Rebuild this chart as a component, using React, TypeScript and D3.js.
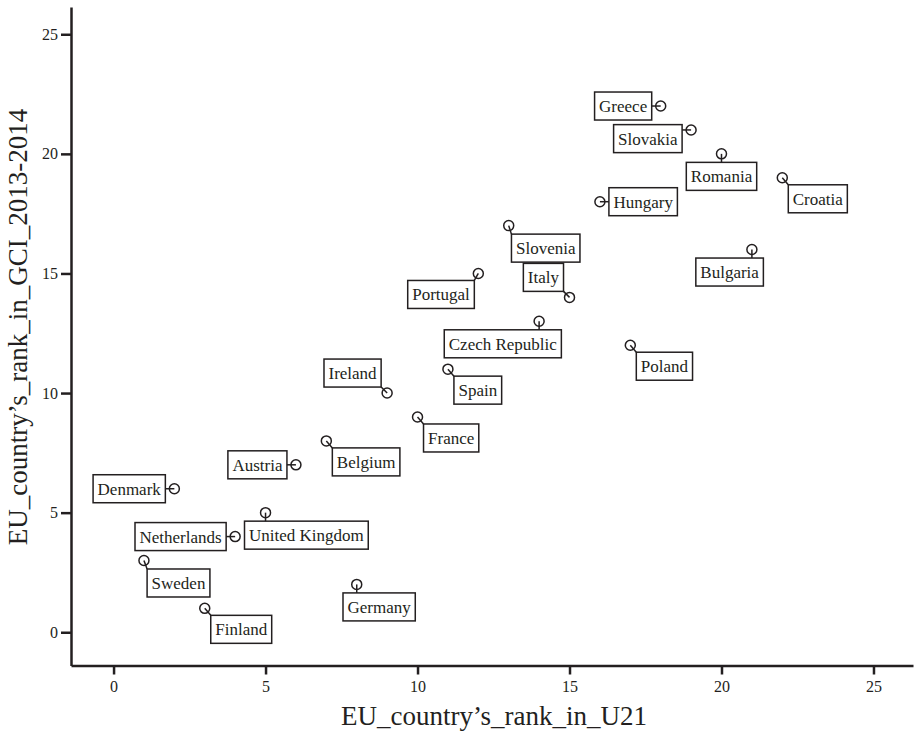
import React, { useEffect, useRef } from "react";
import * as d3 from "d3";

// EU countries, rank in U21 (x) vs rank in GCI 2013-2014 (y)
const countries = [
  "Greece", "Slovakia", "Romania", "Croatia", "Hungary", "Bulgaria",
  "Slovenia", "Portugal", "Italy", "Czech Republic", "Poland", "Ireland",
  "Spain", "France", "Belgium", "Austria", "Denmark", "United Kingdom",
  "Netherlands", "Sweden", "Germany", "Finland",
];
const rankU21 = [18, 19, 20, 22, 16, 21, 13, 12, 15, 14, 17, 9, 11, 10, 7, 6, 2, 5, 4, 1, 8, 3];
const rankGCI = [22, 21, 20, 19, 18, 16, 17, 15, 14, 13, 12, 10, 11, 9, 8, 7, 6, 5, 4, 3, 2, 1];
const xTicks = [0, 5, 10, 15, 20, 25];
const yTicks = [0, 5, 10, 15, 20, 25];

const xTitle = "EU_country\u2019s_rank_in_U21";
const yTitle = "EU_country\u2019s_rank_in_GCI_2013-2014";

// where each label box sits relative to its point: side + fraction along the box
const labelPlacement: Record<string, [string, number]> = {
  Greece: ["L", 0.5],
  Slovakia: ["L", 0.19],
  Romania: ["B", 0.5],
  Croatia: ["BR", 0],
  Hungary: ["R", 0.5],
  Bulgaria: ["B", 0.83],
  Slovenia: ["B", -0.04],
  Portugal: ["BL", 0],
  Italy: ["TL", 0],
  "Czech Republic": ["B", 0.81],
  Poland: ["BR", 0],
  Ireland: ["TL", 0],
  Spain: ["BR", 0],
  France: ["BR", 0],
  Belgium: ["BR", 0],
  Austria: ["L", 0.5],
  Denmark: ["L", 0.5],
  "United Kingdom": ["B", 0.17],
  Netherlands: ["L", 0.5],
  Sweden: ["B", -0.05],
  Germany: ["B", 0.19],
  Finland: ["BR", 0],
};

const W = 916;
const H = 741;
const ink = "#231f20";
const font = "Liberation Serif, Times New Roman, DejaVu Serif, serif";

const App = () => {
  const svgRef = useRef<SVGSVGElement>(null);

  useEffect(() => {
    const svg = d3.select(svgRef.current);
    svg.selectAll("*").remove();
    svg.attr("font-family", font);

    const x = d3.scaleLinear().domain([-1.4, 26.3]).range([71, 913]);
    const y = d3.scaleLinear().domain([-1.39, 26.14]).range([665.5, 7]);

    // X axis
    const gx = svg.append("g")
      .attr("transform", "translate(0,665.5)")
      .call(d3.axisBottom(x).tickValues(xTicks).tickSize(9).tickSizeOuter(0).tickPadding(6));
    // Y axis
    const gy = svg.append("g")
      .attr("transform", "translate(71,0)")
      .call(d3.axisLeft(y).tickValues(yTicks).tickSize(10).tickSizeOuter(0).tickPadding(3));

    [gx, gy].forEach(g => {
      g.attr("font-family", font).attr("font-size", 16);
      g.select(".domain").attr("stroke", ink).attr("stroke-width", 2.5);
      g.selectAll(".tick line").attr("stroke", ink).attr("stroke-width", 2.5);
      g.selectAll(".tick text").attr("fill", ink);
    });

    // Axis titles
    svg.append("text")
      .attr("x", 494)
      .attr("y", 725)
      .attr("text-anchor", "middle")
      .attr("fill", ink)
      .attr("font-size", 27)
      .text(xTitle);

    svg.append("text")
      .attr("transform", "translate(27,327) rotate(-90)")
      .attr("text-anchor", "middle")
      .attr("fill", ink)
      .attr("font-size", 27)
      .text(yTitle);

    // Labels and points
    const boxH = 28;
    const padX = 4;
    const layer = svg.append("g");

    countries.forEach((name, i) => {
      const px = x(rankU21[i]);
      const py = y(rankGCI[i]);
      const g = layer.append("g");

      const txt = g.append("text")
        .attr("fill", ink)
        .attr("font-size", 17)
        .text(name);
      const tw = (txt.node() as SVGTextElement).getComputedTextLength();
      const bw = tw + padX * 2 + 1;

      const [side, f] = labelPlacement[name];
      let left = px;
      let top = py;
      if (side === "L") { left = px - 9 - bw; top = py - boxH * f; }
      else if (side === "R") { left = px + 9; top = py - boxH * f; }
      else if (side === "B") { left = px - bw * f; top = py + 8.5; }
      else if (side === "BR") { left = px + 6; top = py + 7; }
      else if (side === "BL") { left = px - 4 - bw; top = py + 7; }
      else if (side === "TL") { left = px - 6 - bw; top = py - 6 - boxH; }

      // leader from point to nearest spot on the box
      const ax = Math.max(left, Math.min(px, left + bw));
      const ay = Math.max(top, Math.min(py, top + boxH));
      g.append("line")
        .attr("x1", px).attr("y1", py)
        .attr("x2", ax).attr("y2", ay)
        .attr("stroke", ink)
        .attr("stroke-width", 1.5);

      g.insert("rect", "text")
        .attr("x", left)
        .attr("y", top)
        .attr("width", bw)
        .attr("height", boxH)
        .attr("fill", "white")
        .attr("stroke", ink)
        .attr("stroke-width", 1.5);

      txt.attr("x", left + padX + 0.5).attr("y", top + boxH / 2).attr("dy", "0.35em");

      g.append("circle")
        .attr("cx", px)
        .attr("cy", py)
        .attr("r", 5)
        .attr("fill", "none")
        .attr("stroke", ink)
        .attr("stroke-width", 1.5);
    });
  }, []);

  return (
    <div style={{ position: "absolute", left: 0, top: 0 }}>
      <svg ref={svgRef} width={W} height={H} style={{ display: "block", background: "white" }} />
    </div>
  );
};

export default App;
